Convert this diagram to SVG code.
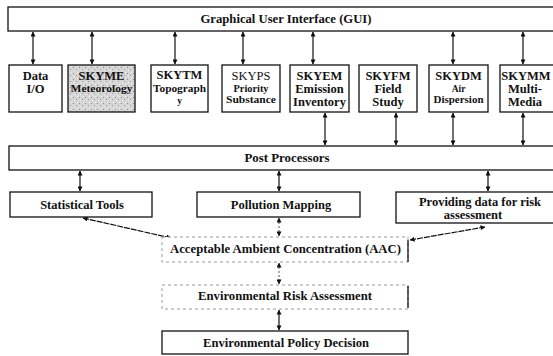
<svg xmlns="http://www.w3.org/2000/svg" width="553" height="356" viewBox="0 0 553 356">
<defs>
<style>
.box{fill:#fff;stroke:#111;stroke-width:1.3}
.faint{fill:#fff;stroke:#9a9a9a;stroke-width:1;stroke-dasharray:3,3}
text{font-family:'Liberation Serif','DejaVu Serif',serif}
.t{font-weight:bold;fill:#111;text-anchor:middle}
.big{font-size:12.5px}
.sm{font-size:9.5px}
.reg{font-weight:normal}
.c{stroke:#111;stroke-width:1.2;fill:none}
.cd{stroke:#555;stroke-width:1;fill:none;stroke-dasharray:2,2}
</style>
<marker id="ah" viewBox="0 0 6 6" refX="5.5" refY="3" markerWidth="5" markerHeight="5" orient="auto-start-reverse" markerUnits="userSpaceOnUse">
<path d="M0,0 L6,3 L0,6 Z" fill="#111"/>
</marker>
<pattern id="speck" width="6" height="6" patternUnits="userSpaceOnUse">
<rect width="6" height="6" fill="#d6d6d6"/>
<rect x="1" y="1" width="1" height="1" fill="#8a8a8a"/>
<rect x="4" y="3" width="1" height="1" fill="#9a9a9a"/>
<rect x="2" y="4" width="1" height="1" fill="#f2f2f2"/>
<rect x="5" y="0" width="1" height="1" fill="#f0f0f0"/>
</pattern>
</defs>
<rect width="553" height="356" fill="#fff"/>

<g id="connectors">
<line class="c" x1="33" y1="32" x2="33" y2="64" marker-start="url(#ah)" marker-end="url(#ah)"/>
<line class="c" x1="92" y1="32" x2="92" y2="64" marker-start="url(#ah)" marker-end="url(#ah)"/>
<line class="c" x1="175" y1="32" x2="175" y2="64" marker-start="url(#ah)" marker-end="url(#ah)"/>
<line class="c" x1="243" y1="32" x2="243" y2="64" marker-start="url(#ah)" marker-end="url(#ah)"/>
<line class="c" x1="313" y1="32" x2="313" y2="64" marker-start="url(#ah)" marker-end="url(#ah)"/>
<line class="c" x1="453" y1="32" x2="453" y2="64" marker-start="url(#ah)" marker-end="url(#ah)"/>
<line class="c" x1="523" y1="32" x2="523" y2="64" marker-start="url(#ah)" marker-end="url(#ah)"/>
<line class="c" x1="325" y1="113" x2="325" y2="145" marker-start="url(#ah)" marker-end="url(#ah)"/>
<line class="c" x1="396" y1="113" x2="396" y2="145" marker-start="url(#ah)" marker-end="url(#ah)"/>
<line class="c" x1="453" y1="113" x2="453" y2="145" marker-start="url(#ah)" marker-end="url(#ah)"/>
<line class="c" x1="523" y1="113" x2="523" y2="145" marker-start="url(#ah)" marker-end="url(#ah)"/>
<line class="c" x1="80" y1="171" x2="80" y2="191" marker-start="url(#ah)" marker-end="url(#ah)"/>
<line class="c" x1="279" y1="171" x2="279" y2="191" marker-start="url(#ah)" marker-end="url(#ah)"/>
<line class="c" x1="488" y1="171" x2="488" y2="191" marker-start="url(#ah)" marker-end="url(#ah)"/>
<line class="c" x1="83" y1="218" x2="171" y2="238" stroke-dasharray="6,1" marker-start="url(#ah)" marker-end="url(#ah)"/>
<line class="c" x1="485" y1="227" x2="410" y2="240" stroke-dasharray="6,1" marker-start="url(#ah)" marker-end="url(#ah)"/>
<line class="cd" x1="279" y1="218" x2="279" y2="236" marker-start="url(#ah)" marker-end="url(#ah)"/>
<line class="cd" x1="279" y1="263" x2="279" y2="284" marker-start="url(#ah)" marker-end="url(#ah)"/>
<line class="c" x1="279" y1="310" x2="279" y2="330" marker-start="url(#ah)" marker-end="url(#ah)"/>
</g>

<g id="gui">
<rect class="box" x="8" y="7" width="550" height="24"/>
<text class="t big" x="286" y="23" textLength="171" lengthAdjust="spacingAndGlyphs">Graphical User Interface (GUI)</text>
</g>

<g id="dataio">
<rect class="box" x="9" y="65" width="53" height="47"/>
<text class="t big" x="35.5" y="80">Data</text>
<text class="t big" x="35.5" y="93">I/O</text>
</g>

<g id="skyme">
<rect class="box" x="68" y="65" width="67" height="47" style="fill:url(#speck)"/>
<text class="t big" x="101.5" y="80">SKYME</text>
<text class="t sm" x="101.5" y="92" textLength="62" lengthAdjust="spacingAndGlyphs">Meteorology</text>
</g>

<g id="skytm">
<rect class="box" x="151" y="65" width="57" height="47"/>
<text class="t big" x="179.5" y="79">SKYTM</text>
<text class="t sm" x="179.5" y="92" textLength="53" lengthAdjust="spacingAndGlyphs">Topograph</text>
<text class="t sm" x="179.5" y="104">y</text>
</g>

<g id="skyps">
<rect class="box" x="222" y="65" width="58" height="47"/>
<text class="t big reg" x="251" y="80">SKYPS</text>
<text class="t sm" x="251" y="92" textLength="35" lengthAdjust="spacingAndGlyphs">Priority</text>
<text class="t sm" x="251" y="103" textLength="50" lengthAdjust="spacingAndGlyphs">Substance</text>
</g>

<g id="skyem">
<rect class="box" x="290" y="65" width="59" height="47"/>
<text class="t big" x="319.5" y="80">SKYEM</text>
<text class="t big" x="319.5" y="93">Emission</text>
<text class="t big" x="319.5" y="106">Inventory</text>
</g>

<g id="skyfm">
<rect class="box" x="359" y="65" width="58" height="47"/>
<text class="t big" x="388" y="80">SKYFM</text>
<text class="t big" x="388" y="93">Field</text>
<text class="t big" x="388" y="106">Study</text>
</g>

<g id="skydm">
<rect class="box" x="429" y="65" width="59" height="47"/>
<text class="t big" x="458.5" y="80">SKYDM</text>
<text class="t sm" x="458.5" y="92">Air</text>
<text class="t sm" x="458.5" y="103" textLength="50" lengthAdjust="spacingAndGlyphs">Dispersion</text>
</g>

<g id="skymm">
<rect class="box" x="500" y="65" width="60" height="47"/>
<text class="t big" x="526" y="80">SKYMM</text>
<text class="t big" x="525" y="93">Multi-</text>
<text class="t big" x="525" y="106">Media</text>
</g>

<g id="post">
<rect class="box" x="9" y="146" width="550" height="24"/>
<text class="t big" x="287" y="162" textLength="85" lengthAdjust="spacingAndGlyphs">Post Processors</text>
</g>

<g id="stats">
<rect class="box" x="10" y="192" width="142" height="25"/>
<text class="t big" x="82" y="209">Statistical Tools</text>
</g>

<g id="pollution">
<rect class="box" x="197" y="192" width="163" height="25"/>
<text class="t big" x="281" y="209">Pollution Mapping</text>
</g>

<g id="providing">
<rect class="box" x="396" y="192" width="165" height="31"/>
<text class="t big" x="480" y="206">Providing data for risk</text>
<text class="t big" x="473" y="219">assessment</text>
</g>

<g id="aac">
<rect class="faint" x="162" y="237" width="246" height="25"/>
<line x1="408" y1="240" x2="408" y2="262" stroke="#111" stroke-width="1.3"/>
<text class="t big" x="285.5" y="253" textLength="231" lengthAdjust="spacingAndGlyphs">Acceptable Ambient Concentration (AAC)</text>
</g>

<g id="era">
<rect class="faint" x="162" y="285" width="246" height="24"/>
<line x1="408" y1="286" x2="408" y2="308" stroke="#111" stroke-width="1.3"/>
<text class="t big" x="285" y="300" textLength="174" lengthAdjust="spacingAndGlyphs">Environmental Risk Assessment</text>
</g>

<g id="epd">
<rect class="box" x="162" y="331" width="246" height="23"/>
<text class="t big" x="286" y="347" textLength="166" lengthAdjust="spacingAndGlyphs">Environmental Policy Decision</text>
</g>
</svg>
